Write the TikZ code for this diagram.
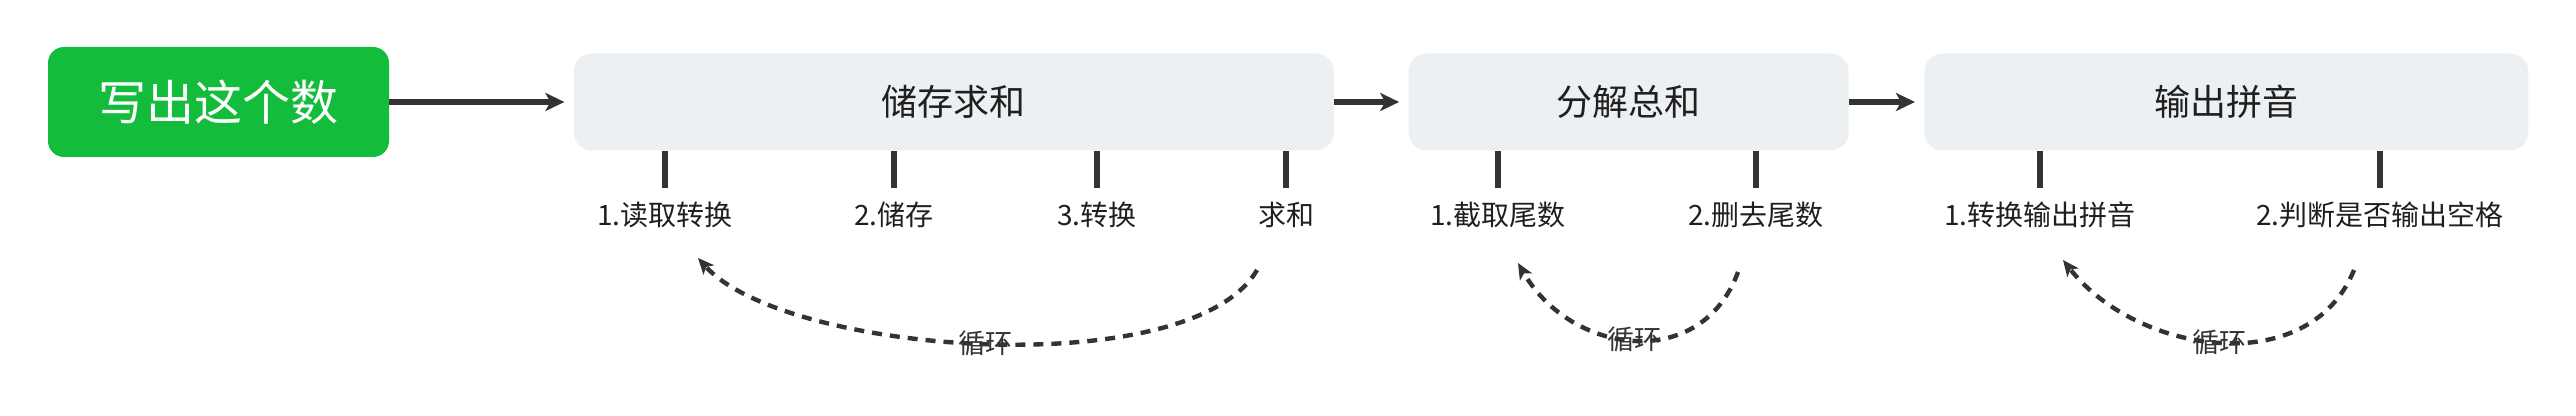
\documentclass[tikz,border=0pt]{standalone}
\usepackage{fontspec}
\newfontfamily\cjk{Noto Sans CJK SC}
\usepackage{xcolor}
\usetikzlibrary{arrows.meta,positioning}
\definecolor{numgreen}{HTML}{13BC3B}
\definecolor{stagefill}{HTML}{EDF0F3}
\definecolor{ink}{HTML}{333333}

\begin{document}
\begin{tikzpicture}[font=\cjk, x=0.5pt, y=0.5pt,
  root/.style={fill=numgreen, rounded corners=8pt, text=white,
               font=\cjk\fontsize{24pt}{28pt}\selectfont,
               minimum width=170.5pt, minimum height=55pt},
  stage/.style={fill=stagefill, rounded corners=9pt, text=black!88,
                font=\cjk\fontsize{18pt}{22pt}\selectfont, minimum height=48.5pt},
  sub/.style={font=\cjk\fontsize{14pt}{16pt}\selectfont, text=black!88, inner sep=0pt},
  arr/.style={-{Stealth[length=9.5pt,width=9pt,inset=2.5pt]}, line width=2.7pt,
              draw=ink, shorten >=4.5pt},
  tick/.style={line width=2.8pt, draw=ink, shorten >=7pt},
  loop/.style={-{Stealth[length=8pt,width=7pt,inset=2pt]}, line width=2.2pt,
               draw=ink, dash pattern=on 5pt off 4pt},
  looplabel/.style={font=\cjk\fontsize{13.5pt}{16pt}\selectfont, text=ink, inner sep=0pt}]
\useasboundingbox (0,0) rectangle (2576,-416);
% main chain
\node[root] (num) at (218.5,-102) {写出这个数};
\node[stage, minimum width=380pt, right=92pt of num] (store) {储存求和};
\node[stage, minimum width=220pt, right=37pt of store] (split) {分解总和};
\node[stage, minimum width=302pt, right=37.5pt of split] (pinyin) {输出拼音};
\draw[arr] (num) -- (store);
\draw[arr] (store) -- (split);
\draw[arr] (split) -- (pinyin);
% steps of 储存求和
\node[sub] (s1) at (665,-215) {1.读取转换};
\node[sub] (s2) at (894,-215) {2.储存};
\node[sub] (s3) at (1097,-215) {3.转换};
\node[sub] (s4) at (1286,-215) {求和};
\draw[tick] (store.south -| s1) -- (s1.north);
\draw[tick] (store.south -| s2) -- (s2.north);
\draw[tick] (store.south -| s3) -- (s3.north);
\draw[tick] (store.south -| s4) -- (s4.north);
\draw[loop] ([shift={(-29,-55)}]s4.center) to[out=-120,in=-48,looseness=0.6]
  node[looplabel]{循环} ([shift={(33,-43)}]s1.center);
% steps of 分解总和
\node[sub] (t1) at (1498,-215) {1.截取尾数};
\node[sub] (t2) at (1756,-215) {2.删去尾数};
\draw[tick] (split.south -| t1) -- (t1.north);
\draw[tick] (split.south -| t2) -- (t2.north);
\draw[loop] ([shift={(-18,-57)}]t2.center) to[out=-110,in=-60,looseness=1.24]
  node[looplabel]{循环} ([shift={(20,-48)}]t1.center);
% steps of 输出拼音
\node[sub] (u1) at (2040,-215) {1.转换输出拼音};
\node[sub] (u2) at (2380,-215) {2.判断是否输出空格};
\draw[tick] (pinyin.south -| u1) -- (u1.north);
\draw[tick] (pinyin.south -| u2) -- (u2.north);
\draw[loop] ([shift={(-26,-55)}]u2.center) to[out=-112,in=-52,looseness=1.05]
  node[looplabel]{循环} ([shift={(23,-45)}]u1.center);
\end{tikzpicture}
\end{document}
